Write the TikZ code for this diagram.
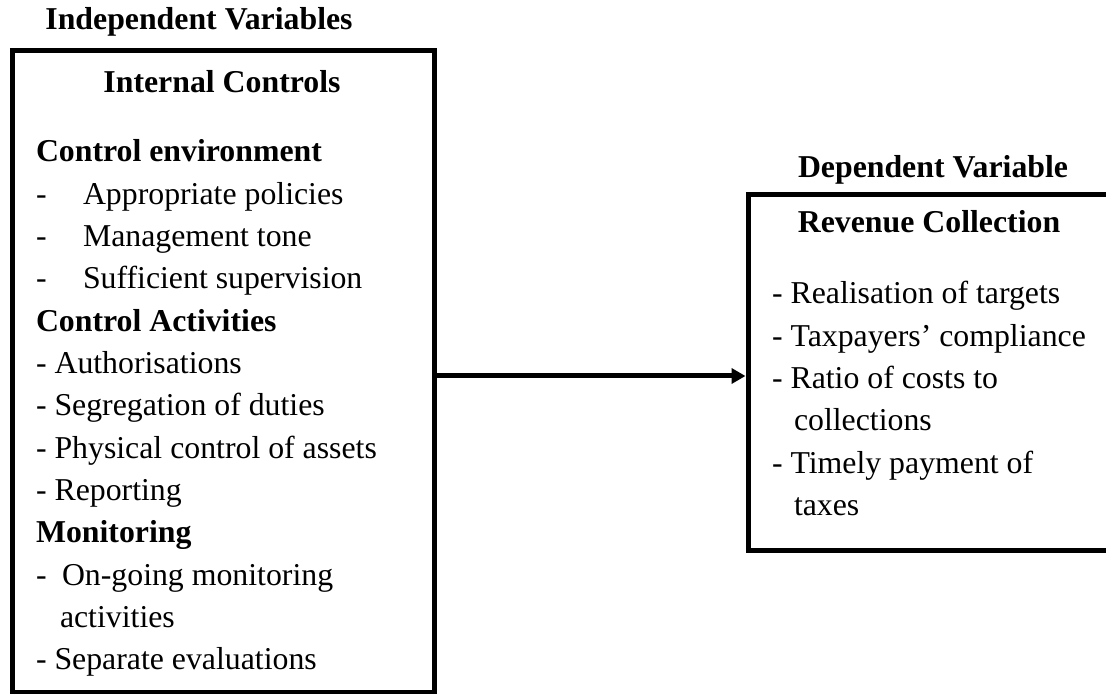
\documentclass[tikz,border=0pt]{standalone}
\usepackage{fontspec}
\setmainfont{Liberation Serif}
\usetikzlibrary{arrows.meta}
\begin{document}
\begin{tikzpicture}[x=0.5pt,y=-0.5pt,
  box/.style={draw, line width=2.5pt, inner sep=0pt, outer sep=0pt, rectangle},
  txt/.style={anchor=base west, inner sep=0pt, outer sep=0pt, font=\fontsize{15.9}{19}\selectfont},
  hd/.style={anchor=base, inner sep=0pt, outer sep=0pt, font=\fontsize{15.9}{19}\selectfont\bfseries},
  sub/.style={anchor=base west, inner sep=0pt, outer sep=0pt, font=\fontsize{15.9}{19}\selectfont\bfseries},
  arr/.style={line width=2.5pt, -{Triangle[length=7pt,width=7.5pt]}}]
\useasboundingbox (0,0) rectangle (1106,694);
% boxes
\node[box, minimum width=211pt, minimum height=321pt] (lbox) at (223.5,371.5) {};
\node[box, minimum width=186pt, minimum height=177.5pt] (rbox) at (934,372.5) {};
% headings
\node[hd] (indep) at (199,30) {Independent Variables};
\node[hd] (ic) at (222,93) {Internal Controls};
\node[hd] (dep) at (933,178) {Dependent Variable};
\node[hd] (rc) at (929,233) {Revenue Collection};
% left box contents
\node[sub] (ce) at (36,162) {Control environment};
\node[txt] (d1) at (36,204.3) {-};
\node[txt] (l1) at (83,204.3) {Appropriate policies};
\node[txt] (d2) at (36,246.6) {-};
\node[txt] (l2) at (83,246.6) {Management tone};
\node[txt] (d3) at (36,288.9) {-};
\node[txt] (l3) at (83,288.9) {Sufficient supervision};
\node[sub] (ca) at (36,331.2) {Control Activities};
\node[txt] (l4) at (36,373.5) {- Authorisations};
\node[txt] (l5) at (36,415.8) {- Segregation of duties};
\node[txt] (l6) at (36,458.1) {- Physical control of assets};
\node[txt] (l7) at (36,500.4) {- Reporting};
\node[sub] (mo) at (36,542.7) {Monitoring};
\node[txt] (d8) at (36,585) {-};
\node[txt] (l8) at (62,585) {On-going monitoring};
\node[txt] (l9) at (60,627.3) {activities};
\node[txt] (l10) at (36,669.6) {- Separate evaluations};
% right box contents
\node[txt] (r1) at (772,304) {- Realisation of targets};
\node[txt] (r2) at (772,346.3) {- Taxpayers’ compliance};
\node[txt] (r3) at (772,388.6) {- Ratio of costs to};
\node[txt] (r4) at (794,430.9) {collections};
\node[txt] (r5) at (772,473.2) {- Timely payment of};
\node[txt] (r6) at (794,515.5) {taxes};
% connector
\coordinate (ay) at (0,376);
\draw[arr, shorten >=1.25pt] (lbox.east |- ay) -- (rbox.west |- ay);
\end{tikzpicture}
\end{document}
